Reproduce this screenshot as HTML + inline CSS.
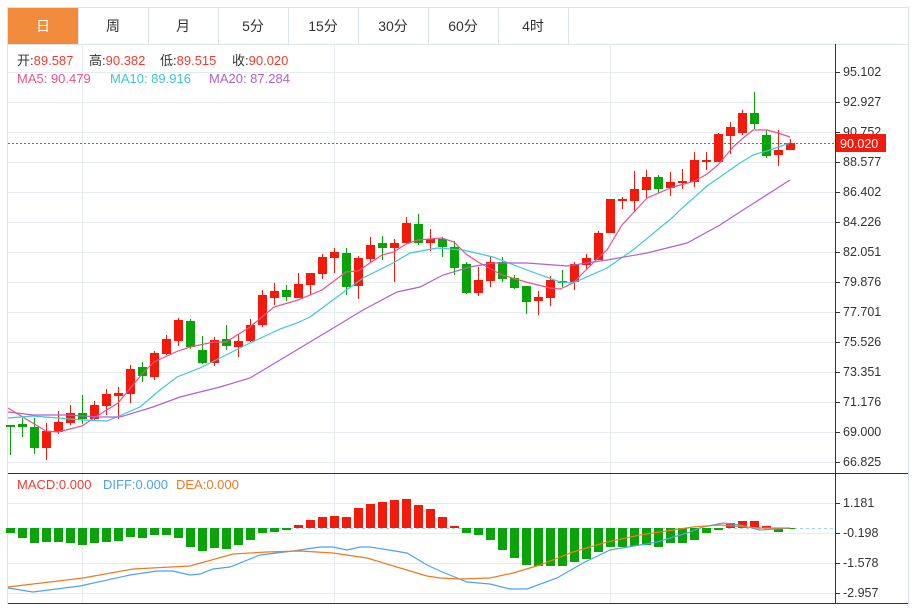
<!DOCTYPE html>
<html><head><meta charset="utf-8"><style>
body{margin:0;background:#fff;width:921px;height:608px;overflow:hidden;font-family:"Liberation Sans","Noto Sans CJK SC",sans-serif}
svg{position:absolute;left:0;top:0}
</style></head><body>
<svg id="s" width="921" height="608" xmlns="http://www.w3.org/2000/svg" font-family="Liberation Sans, Noto Sans CJK SC, sans-serif">
<rect x="0" y="0" width="921" height="608" fill="#fff"/>
<rect x="7.5" y="7.5" width="901" height="596" fill="none" stroke="#dde3ea"/>
<rect x="8" y="8" width="70" height="36" fill="#f28b3c"/>
<g stroke="#dde3ea"><line x1="78.5" y1="8" x2="78.5" y2="44"/><line x1="148.5" y1="8" x2="148.5" y2="44"/><line x1="218.5" y1="8" x2="218.5" y2="44"/><line x1="288.5" y1="8" x2="288.5" y2="44"/><line x1="358.5" y1="8" x2="358.5" y2="44"/><line x1="428.5" y1="8" x2="428.5" y2="44"/><line x1="498.5" y1="8" x2="498.5" y2="44"/><line x1="568.5" y1="8" x2="568.5" y2="44"/><line x1="8" y1="44.5" x2="908" y2="44.5"/></g>
<g font-size="14" text-anchor="middle" fill="#333"><text x="43" y="31" fill="#fff">日</text><text x="113" y="31">周</text><text x="183" y="31">月</text><text x="253" y="31">5分</text><text x="323" y="31">15分</text><text x="393" y="31">30分</text><text x="463" y="31">60分</text><text x="533" y="31">4时</text></g>
<g id="grid" stroke="#e6ebf0"></g>
<line x1="835.5" y1="44" x2="835.5" y2="604" stroke="#333"/>
<line x1="8" y1="473.5" x2="908" y2="473.5" stroke="#333"/>
<line x1="8" y1="603.5" x2="908" y2="603.5" stroke="#333"/>
<g id="axis" font-size="12.5" fill="#333"></g>
<g id="cand"></g>
<g id="lines" fill="none"></g>
<line x1="8" y1="143.5" x2="835" y2="143.5" stroke="#f03c30" stroke-dasharray="2,2"/>
<rect x="836" y="134" width="50" height="18" fill="#f21a0a"/>
<text x="840" y="148" font-size="12.5" fill="#fff">90.020</text>
<g font-size="13"><text x="17" y="65" fill="#333">开:<tspan fill="#f03c30">89.587</tspan></text><text x="89" y="65" fill="#333">高:<tspan fill="#f03c30">90.382</tspan></text><text x="160" y="65" fill="#333">低:<tspan fill="#f03c30">89.515</tspan></text><text x="232" y="65" fill="#333">收:<tspan fill="#f03c30">90.020</tspan></text>
<text x="17" y="83" fill="#e8538f">MA5: 90.479</text><text x="110" y="83" fill="#3ec6dc">MA10: 89.916</text><text x="209" y="83" fill="#b45fd0">MA20: 87.284</text>
<text x="17" y="489" fill="#f03c30">MACD:0.000</text><text x="103" y="489" fill="#4da3f0">DIFF:0.000</text><text x="176" y="489" fill="#f07a20">DEA:0.000</text></g>
</svg>
<script>
const NS="http://www.w3.org/2000/svg";
function el(p,t,a){const e=document.createElementNS(NS,t);for(const k in a)e.setAttribute(k,a[k]);document.getElementById(p).appendChild(e);return e;}
for(let i=0;i<14;i++){let y=72+30*i+.5;el('grid','line',{x1:8,y1:y,x2:835,y2:y});}
[503,533,563,593].forEach(y=>el('grid','line',{x1:8,y1:y+.5,x2:835,y2:y+.5}));
[82,334,610].forEach(x=>el('grid','line',{x1:x+.5,y1:44,x2:x+.5,y2:603}));
const lab=["95.102","92.927","90.752","88.577","86.402","84.226","82.051","79.876","77.701","75.526","73.351","71.176","69.000","66.825"];
lab.forEach((t,i)=>{let y=72+30*i;el('axis','line',{x1:835,y1:y+.5,x2:840,y2:y+.5,stroke:'#333'});const e=el('axis','text',{x:843,y:y+4});e.textContent=t;});
[["1.181",503],["-0.198",533],["-1.578",563],["-2.957",593]].forEach(([t,y])=>{el('axis','line',{x1:835,y1:y+.5,x2:840,y2:y+.5,stroke:'#333'});const e=el('axis','text',{x:843,y:y+4});e.textContent=t;});
const R="#f21a0a",G="#0aa40a";
const C=[[425,427,426,455,0],[424,427,418,437,0],[427,448,418,454,0],[431,448,423,460,1],[422,432,411,434,1],[413,423,405,425,1],[413,419,395,424,0],[405,419,401,420,1],[394,406,389,415,1],[393,396,387,419,1],[369,394,365,403,1],[367,376,362,382,0],[353,377,351,380,1],[339,354,335,355,1],[320,341,318,346,1],[321,347,319,349,0],[350,363,336,364,0],[340,363,337,366,1],[339,346,325,350,0],[341,347,334,357,1],[325,341,319,342,1],[295,325,290,327,1],[291,298,283,305,1],[290,297,285,301,0],[284,298,273,298,1],[273,285,273,295,1],[257,274,254,279,1],[252,258,248,273,1],[253,287,248,295,0],[258,286,256,299,1],[245,259,237,263,1],[243,248,236,260,0],[243,248,239,282,1],[223,243,217,243,1],[224,243,214,245,0],[239,243,229,251,1],[239,247,237,257,0],[247,268,241,275,0],[264,293,262,294,0],[280,293,267,296,1],[262,281,257,287,1],[262,279,257,282,0],[278,288,275,289,0],[286,302,286,314,0],[297,301,291,315,1],[280,298,276,306,1],[281,283,270,287,0],[264,282,262,290,1],[258,265,254,269,1],[233,260,231,260,1],[199,233,199,233,1],[199,201,197,209,1],[189,201,171,212,1],[177,190,170,199,1],[177,189,175,193,0],[182,188,172,196,1],[181,182,169,189,1],[160,182,152,187,1],[160,162,152,170,1],[134,162,133,162,1],[127,136,122,154,1],[113,133,110,135,1],[113,124,92,129,0],[135,156,130,158,0],[150,155,130,166,1],[143,150,139,150,1]];
C.forEach((c,i)=>{const x=10+12*i,col=c[4]?R:G;el('cand','line',{x1:x+.5,y1:c[2],x2:x+.5,y2:c[3],stroke:col});el('cand','rect',{x:x-4,y:c[0],width:9,height:Math.max(2,c[1]-c[0]),fill:col});});
el('cand','line',{x1:8,y1:528.5,x2:835,y2:528.5,stroke:'#9fd3ea','stroke-dasharray':'3,3'});
const M=[533,538,543,542,542,543,545,543,542,541,537,538,535,535,538,547,551,548,549,545,540,533,532,530,525,520,517,516,517,508,504,502,500,499,505,509,517,526,533,535,540,550,558,565,566,566,566,562,559,552,547,547,546,545,547,543,543,540,533,530,523,521,521,526,532,529];
M.forEach((y,i)=>{const x=10+12*i;const up=y<528;const t=up?y:528,h=Math.max(1,Math.abs(y-528));el('cand','rect',{x:x-4,y:t,width:9,height:h,fill:up?R:G});});
function pl(pts,col){el('lines','polyline',{points:pts.map(p=>p.join(',')).join(' '),stroke:col,'stroke-width':1.2});}
pl([[8,408],[46,431],[58,432],[82,426],[94,418],[118,403],[142,374],[154,362],[178,351],[190,347],[214,342],[226,342],[250,327],[274,307],[298,300],[322,290],[346,272],[358,271],[382,255],[394,252],[406,244],[418,240],[442,238],[454,242],[466,254],[478,262],[502,275],[526,282],[550,288],[560,289],[573,283],[586,270],[598,258],[607,250],[622,225],[647,198],[673,187],[695,181],[707,174],[718,165],[733,147],[742,139],[753,130],[767,130],[778,133],[790,137]],"#e8538f");
pl([[8,418],[33,416],[83,420],[107,421],[140,407],[160,390],[177,377],[200,368],[250,343],[280,329],[297,323],[310,317],[337,297],[363,278],[393,263],[410,253],[437,248],[463,250],[493,257],[527,270],[560,282],[573,283],[607,268],[633,250],[673,217],[680,210],[707,186],[720,177],[740,163],[753,155],[770,150],[790,143]],"#3ec6dc");
pl([[8,412],[33,415],[67,415],[100,417],[120,417],[153,407],[180,397],[220,387],[250,378],[280,360],[330,330],[363,310],[397,292],[420,287],[443,275],[470,267],[493,263],[527,263],[567,266],[607,260],[647,253],[687,243],[720,225],[743,210],[790,180]],"#b45fd0");
pl([[8,588],[33,592],[80,586],[130,575],[157,571],[173,571],[190,575],[200,574],[213,569],[230,567],[260,555],[293,551],[320,547],[333,547],[347,550],[360,547],[370,547],[407,553],[427,565],[440,571],[467,582],[490,584],[510,589],[527,589],[557,578],[583,563],[610,550],[640,545],[657,542],[687,533],[703,527],[723,523],[740,525],[760,530],[790,528]],"#4da3f0");
pl([[8,587],[33,584],[83,578],[133,569],[190,566],[233,554],[267,552],[300,551],[333,553],[367,558],[400,568],[427,576],[440,578],[460,579],[490,578],[513,573],[540,565],[573,552],[607,542],[640,535],[673,530],[693,527],[720,525],[760,528],[790,528]],"#f07a20");
</script>
</body></html>
